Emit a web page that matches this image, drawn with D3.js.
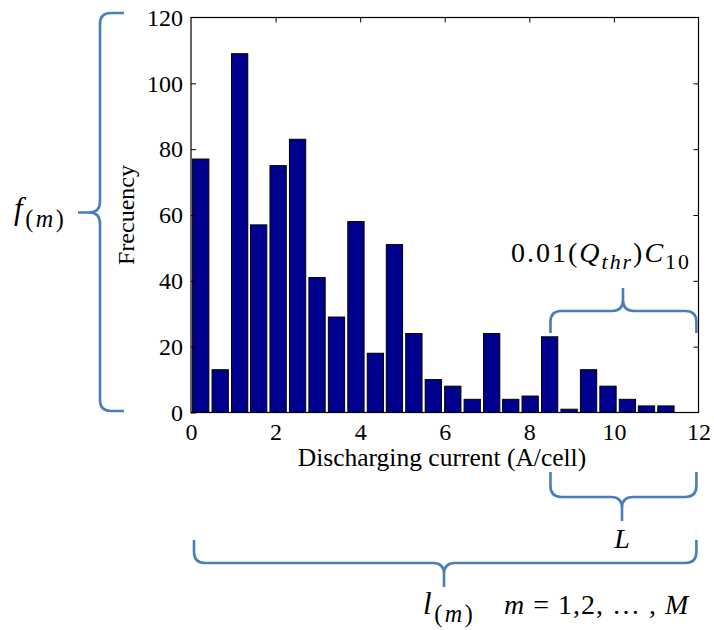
<!DOCTYPE html>
<html>
<head>
<meta charset="utf-8">
<script src="https://cdn.jsdelivr.net/npm/d3@7"></script>
<style>
  html, body { margin: 0; padding: 0; background: #fff; }
  svg { display: block; }
</style>
</head>
<body>
<svg id="chart" width="714" height="630"></svg>
<script>
// ---- data ----
const binCenters = [0.23, 0.69, 1.15, 1.60, 2.06, 2.52, 2.98, 3.44, 3.90, 4.36, 4.81, 5.27, 5.73,
                    6.19, 6.65, 7.11, 7.56, 8.02, 8.48, 8.94, 9.40, 9.86, 10.32, 10.77, 11.23];
const frequencies = [77, 13, 109, 57, 75, 83, 41, 29, 58, 18, 51, 24, 10,
                     8, 4, 24, 4, 5, 23, 1, 13, 8, 4, 2, 2];
const xTicks = [0, 2, 4, 6, 8, 10, 12];
const yTicks = [0, 20, 40, 60, 80, 100, 120];
const binWidth = 0.385;

// ---- layout ----
const svg = d3.select("#chart");
const L = 191, R = 698.5, T = 17.5, B = 412.5;
const x = d3.scaleLinear().domain([0, 12]).range([L, R]);
const y = d3.scaleLinear().domain([0, 120]).range([B, T]);
const serif = "'Liberation Serif', 'Times New Roman', serif";
const mathFont = "'Liberation Serif', 'Times New Roman', serif";
const braceColor = "#4a7ebb";

// bars
svg.append("g").selectAll("rect").data(frequencies).join("rect")
  .attr("x", (d, i) => x(binCenters[i] - binWidth / 2))
  .attr("width", (d, i) => x(binCenters[i] + binWidth / 2) - x(binCenters[i] - binWidth / 2))
  .attr("y", d => y(d))
  .attr("height", d => y(0) - y(d))
  .attr("fill", "#00008f")
  .attr("stroke", "#000")
  .attr("stroke-width", 1);

// axes (box with inward ticks)
const tickLen = 5;
const axB = svg.append("g").attr("transform", `translate(0,${B})`)
  .call(d3.axisBottom(x).tickValues(xTicks).tickSize(-tickLen).tickPadding(10).tickFormat(d3.format("d")));
const axT = svg.append("g").attr("transform", `translate(0,${T})`)
  .call(d3.axisTop(x).tickValues(xTicks).tickSize(-tickLen).tickFormat(""));
const axL = svg.append("g").attr("transform", `translate(${L},0)`)
  .call(d3.axisLeft(y).tickValues(yTicks).tickSize(-tickLen).tickPadding(8).tickFormat(d3.format("d")));
const axR = svg.append("g").attr("transform", `translate(${R},0)`)
  .call(d3.axisRight(y).tickValues(yTicks).tickSize(-tickLen).tickFormat(""));
[axB, axT, axL, axR].forEach(a => {
  a.attr("font-family", serif).attr("font-size", 24);
  a.selectAll(".tick line").attr("stroke", "#000").attr("stroke-width", 1);
  a.selectAll("text").attr("font-family", serif).attr("font-size", 24).attr("fill", "#000");
  a.select(".domain").remove();
});
axB.selectAll(".tick text").attr("dy", "0.71em");
axB.selectAll(".tick").filter(d => d === 12 || d === 0).select("line").remove();
axT.selectAll(".tick").filter(d => d === 12 || d === 0).select("line").remove();
axL.selectAll(".tick").filter(d => d === 120).select("line").remove();
axR.selectAll(".tick").filter(d => d === 120 || d === 0).select("line").remove();
svg.append("rect").attr("x", L).attr("y", T).attr("width", R - L).attr("height", B - T)
  .attr("fill", "none").attr("stroke", "#000").attr("stroke-width", 1.2);

// axis titles
svg.append("text").attr("x", 442).attr("y", 466).attr("text-anchor", "middle")
  .attr("font-family", serif).attr("font-size", 25.5).text("Discharging current (A/cell)");
svg.append("text").attr("transform", `translate(134,${(T + B) / 2}) rotate(-90)`)
  .attr("text-anchor", "middle").attr("font-family", serif).attr("font-size", 24).text("Frecuency");

// ---- braces ----
function hBrace(x1, x2, yLine, yEnd, tipY, tipX) {
  const s = Math.sign(yEnd - yLine), t = Math.sign(tipY - yLine), r = 11;
  return `M${x1},${yEnd} L${x1},${yLine + s * r} Q${x1},${yLine} ${x1 + r},${yLine} L${tipX - r},${yLine} ` +
         `Q${tipX},${yLine} ${tipX},${yLine + t * r} L${tipX},${tipY} ` +
         `M${tipX},${yLine + t * r} Q${tipX},${yLine} ${tipX + r},${yLine} L${x2 - r},${yLine} ` +
         `Q${x2},${yLine} ${x2},${yLine + s * r} L${x2},${yEnd}`;
}
function vBrace(y1, y2, xLine, xEnd, tipX, tipY) {
  const s = Math.sign(xEnd - xLine), t = Math.sign(tipX - xLine), r = 11;
  return `M${xEnd},${y1} L${xLine + s * r},${y1} Q${xLine},${y1} ${xLine},${y1 + r} L${xLine},${tipY - r} ` +
         `Q${xLine},${tipY} ${xLine + t * r},${tipY} L${tipX},${tipY} ` +
         `M${xLine + t * r},${tipY} Q${xLine},${tipY} ${xLine},${tipY + r} L${xLine},${y2 - r} ` +
         `Q${xLine},${y2} ${xLine + s * r},${y2} L${xEnd},${y2}`;
}
const braceG = svg.append("g").attr("fill", "none").attr("stroke", braceColor)
  .attr("stroke-width", 2.6).attr("stroke-linejoin", "round");
braceG.append("path").attr("d", vBrace(13, 411, 100, 124, 78, 212.5));
braceG.append("path").attr("d", hBrace(x(8.5), x(11.95), 311, 333, 288, 623));
braceG.append("path").attr("d", hBrace(x(8.5), x(11.95), 497, 472, 521, 622));
braceG.append("path").attr("d", hBrace(194, x(11.95), 563, 540, 587, 444));

// ---- math labels ----
// parts: {t, i (italic), sub (true = subscript)}
function mathText(xp, yp, parts, size, spacing, anchor) {
  const t = svg.append("text").attr("x", xp).attr("y", yp).attr("font-family", mathFont)
    .attr("font-size", size).attr("text-anchor", anchor || "start").attr("fill", "#000")
    .attr("letter-spacing", spacing || 0).attr("xml:space", "preserve");
  let cur = 0;
  const drop = size * 0.26;
  parts.forEach(p => {
    const target = p.sub ? drop : 0;
    const ts = t.append("tspan").text(p.t).attr("dy", target - cur);
    cur = target;
    if (p.i) ts.attr("font-style", "italic");
    if (p.sub) ts.attr("font-size", size * 0.78);
  });
  return t;
}
mathText(14, 219, [{t: "f", i: true}, {t: "(", sub: true}, {t: "m", i: true, sub: true}, {t: ")", sub: true}], 31, 2.5);
mathText(511, 262, [{t: "0.01("}, {t: "Q", i: true}, {t: "thr", i: true, sub: true}, {t: ")"}, {t: "C", i: true}, {t: "10", sub: true}], 28, 2.0);
mathText(622, 548, [{t: "L", i: true}], 28, 0, "middle");
mathText(423, 614, [{t: "l", i: true}, {t: "(", sub: true}, {t: "m", i: true, sub: true}, {t: ")", sub: true}], 31, 2.5);
mathText(504, 614, [{t: "m", i: true}, {t: " = 1,2, … , "}, {t: "M", i: true}], 28, 1.0);
</script>
</body>
</html>
